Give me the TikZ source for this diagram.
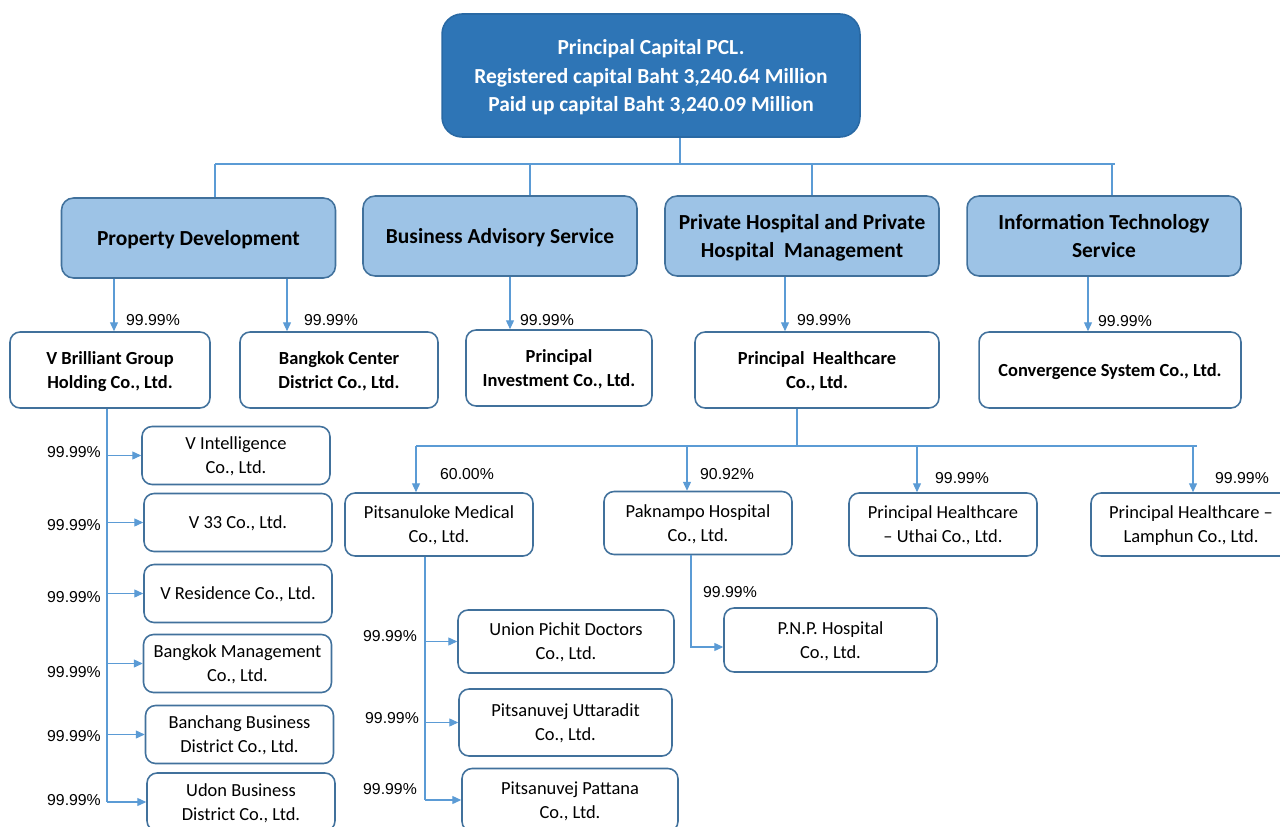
\documentclass[tikz,border=0pt]{standalone}
\usepackage{fontspec}
\setmainfont{Carlito}
\newfontfamily\pctfont{Liberation Sans}
\usetikzlibrary{arrows.meta}
\definecolor{lineblue}{HTML}{5B9BD5}
\definecolor{edgeblue}{HTML}{41719C}
\definecolor{headblue}{HTML}{2E75B6}
\definecolor{lightblue}{HTML}{9DC3E6}
\tikzset{
  topbox/.style={draw=headblue!90!black, fill=headblue, line width=0.9pt, rounded corners=0.4cm,
    minimum width=8.36cm, minimum height=2.46cm, align=center, text=white, text depth=0pt,
    font=\fontsize{12.2}{16}\selectfont\bfseries},
  linebox/.style={draw=edgeblue, fill=lightblue, line width=0.9pt, rounded corners=0.24cm,
    minimum width=5.48cm, minimum height=1.6cm, align=center, text=black, text depth=0pt,
    font=\fontsize{12.2}{16}\selectfont\bfseries},
  cobox/.style={draw=edgeblue, fill=white, line width=0.9pt, rounded corners=0.2cm, text depth=0pt,
    minimum height=1.52cm, align=center, font=\fontsize{10.5}{13.6}\selectfont\bfseries},
  subbox/.style={draw=edgeblue, fill=white, line width=0.9pt, rounded corners=0.2cm, text depth=0pt,
    minimum width=3.76cm, minimum height=1.16cm, align=center, font=\fontsize{10.5}{13.6}\selectfont},
  pct/.style={inner sep=0pt, font=\pctfont\fontsize{9}{11}\selectfont},
  link/.style={draw=lineblue, line width=0.6pt},
  arr/.style={link, -{Triangle[width=4.5pt,length=5pt]}}
}
\begin{document}
\begin{tikzpicture}[x=0.02cm, y=-0.02cm]
  \useasboundingbox (0,0) rectangle (1280,827);
  % the holding company
  \node[topbox] (top) at (651,75.5) {Principal Capital PCL.\\Registered capital Baht 3,240.64 Million\\Paid up capital Baht 3,240.09 Million};
  % the four lines of business
  \node[linebox] (pd) at (198.5,238) {Property Development};
  \node[linebox] (ba) at (500,236) {Business Advisory Service};
  \node[linebox] (ph) at (802,236) {Private Hospital and Private\\Hospital\ \ Management};
  \node[linebox] (it) at (1104,236) {Information Technology\\Service};
  % first level companies
  \node[cobox, minimum width=4cm] (vb) at (110,370) {V Brilliant Group\\Holding Co., Ltd.};
  \node[cobox, minimum width=3.96cm] (bc) at (339,370) {Bangkok Center\\District Co., Ltd.};
  \node[cobox, minimum width=3.72cm] (pi) at (559,368) {Principal\\Investment Co., Ltd.};
  \node[cobox, minimum width=4.88cm] (phc) at (817,370) {Principal\ \ Healthcare\\Co., Ltd.};
  \node[cobox, minimum width=5.24cm] (cs) at (1110,370) {Convergence System Co., Ltd.};
  % companies under V Brilliant
  \node[subbox] (vi) at (236,455.5) {V Intelligence\\Co., Ltd.};
  \node[subbox] (v33) at (238,522.5) {V 33 Co., Ltd.};
  \node[subbox] (vr) at (238,593.5) {V Residence Co., Ltd.};
  \node[subbox] (bm) at (237.5,663.5) {Bangkok Management\\Co., Ltd.};
  \node[subbox] (bb) at (239.5,734.5) {Banchang Business\\District Co., Ltd.};
  \node[subbox] (ub) at (241,802) {Udon Business\\District Co., Ltd.};
  % hospitals under Principal Healthcare
  \node[subbox, minimum height=1.26cm] (pm) at (439,524.5) {Pitsanuloke Medical\\Co., Ltd.};
  \node[subbox, minimum height=1.26cm] (pk) at (698,523) {Paknampo Hospital\\Co., Ltd.};
  \node[subbox, minimum height=1.26cm] (pu) at (943,524.5) {Principal Healthcare\\-- Uthai Co., Ltd.};
  \node[subbox, minimum height=1.26cm, minimum width=4cm] (pl) at (1191,524.5) {Principal Healthcare --\\Lamphun Co., Ltd.};
  % third level
  \node[subbox, minimum height=1.26cm, minimum width=4.32cm] (up) at (566,641.5) {Union Pichit Doctors\\Co., Ltd.};
  \node[subbox, minimum height=1.34cm, minimum width=4.26cm] (put) at (565.5,722.5) {Pitsanuvej Uttaradit\\Co., Ltd.};
  \node[subbox, minimum height=1.26cm, minimum width=4.32cm] (ppa) at (570,800) {Pitsanuvej Pattana\\Co., Ltd.};
  \node[subbox, minimum height=1.28cm, minimum width=4.26cm] (pnp) at (830.5,640) {P.N.P. Hospital\\Co., Ltd.};
  % top bus
  \coordinate (busL) at (215,164);
  \coordinate (busR) at (1115,164);
  \draw[link] (680,0 |- top.south) -- (680,0 |- busL);
  \draw[link] (busL) -- (busR);
  \foreach \x/\n in {215/pd, 530/ba, 812/ph, 1112/it}
    \draw[link] (\x,0 |- busL) -- (\x,0 |- \n.north);
  % business lines to first level
  \foreach \x/\a/\b in {114/pd/vb, 287/pd/bc, 510/ba/pi, 785/ph/phc, 1088/it/cs}
    \draw[arr] (\x,0 |- \a.south) -- (\x,0 |- \b.north);
  \node[pct] (p1) at (153,320) {99.99\%};
  \node[pct] (p2) at (331,320) {99.99\%};
  \node[pct] (p3) at (547,320) {99.99\%};
  \node[pct] (p4) at (824,320) {99.99\%};
  \node[pct] (p5) at (1125,321) {99.99\%};
  % V Brilliant branch
  \draw[link] (107,0 |- vb.south) -- (107,0 |- ub.west);
  \foreach \n in {vi, v33, vr, bm, bb, ub}
    \draw[arr] (107,0 |- \n.west) -- (\n.west);
  \foreach \y/\n in {452/vi, 525/v33, 597/vr, 672/bm, 736/bb, 800/ub}
    \node[pct] (q\n) at (74,\y) {99.99\%};
  % Principal Healthcare branch
  \coordinate (hbusL) at (416,446);
  \coordinate (hbusR) at (1197,446);
  \draw[link] (797,0 |- phc.south) -- (797,0 |- hbusL);
  \draw[link] (hbusL) -- (hbusR);
  \foreach \x/\n in {416/pm, 687/pk, 917/pu, 1193/pl}
    \draw[arr] (\x,0 |- hbusL) -- (\x,0 |- \n.north);
  \node[pct] (rpm) at (467,474) {60.00\%};
  \node[pct] (rpk) at (727,474) {90.92\%};
  \node[pct] (rpu) at (962,478) {99.99\%};
  \node[pct] (rpl) at (1242,478) {99.99\%};
  % Pitsanuloke branch
  \draw[link] (425,0 |- pm.south) -- (425,0 |- ppa.west);
  \foreach \n in {up, put, ppa}
    \draw[arr] (425,0 |- \n.west) -- (\n.west);
  \node[pct] (sup) at (390,636) {99.99\%};
  \node[pct] (sput) at (392,718) {99.99\%};
  \node[pct] (sppa) at (390,789) {99.99\%};
  % Paknampo branch
  \draw[arr] (691,0 |- pk.south) |- ([yshift=-0.14cm]pnp.west);
  \node[pct] (spnp) at (730,592) {99.99\%};
\end{tikzpicture}
\end{document}
